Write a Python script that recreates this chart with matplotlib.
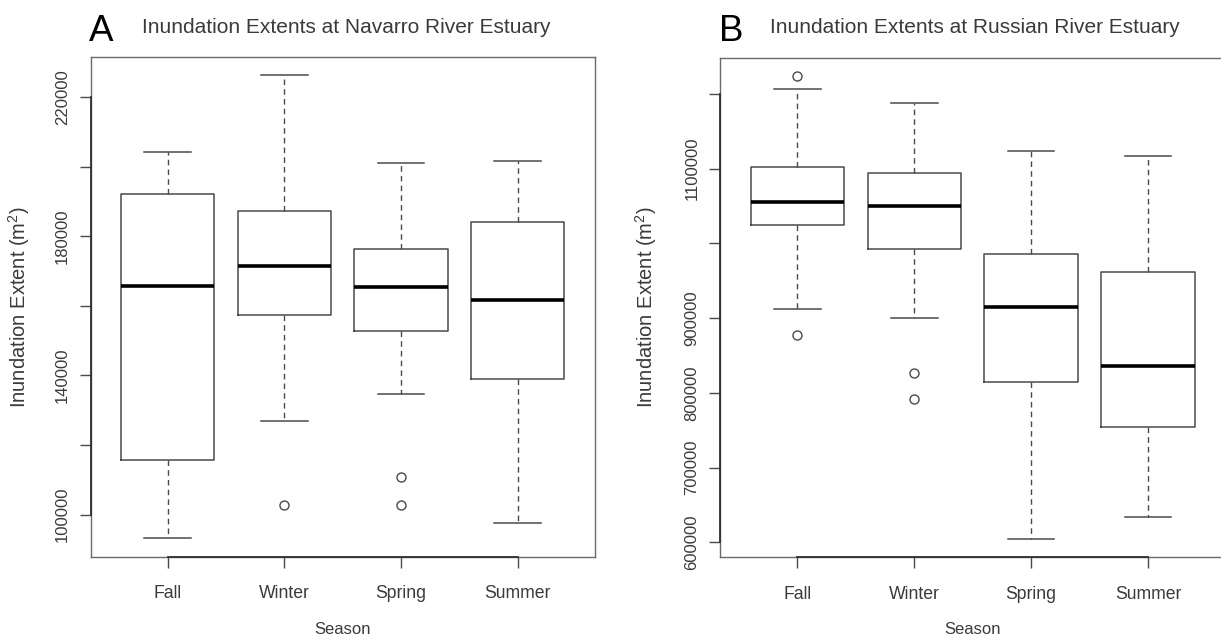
import matplotlib
matplotlib.use("Agg")
import matplotlib.pyplot as plt
from matplotlib.transforms import blended_transform_factory

# ---------------- data ----------------
seasons = ["Fall", "Winter", "Spring", "Summer"]

nav_whislo = [93300, 126800, 134600, 97700]
nav_q1 = [115800, 157400, 152800, 138900]
nav_med = [165700, 171500, 165300, 161800]
nav_q3 = [192000, 187200, 176400, 184000]
nav_whishi = [204200, 226300, 201000, 201500]
nav_fliers = [[], [102800], [110800, 102800], []]

rus_whislo = [911800, 900100, 604700, 633700]
rus_q1 = [1025000, 992900, 814500, 753800]
rus_med = [1055800, 1049700, 914500, 836300]
rus_q3 = [1102300, 1093800, 986200, 962100]
rus_whishi = [1206700, 1188000, 1124100, 1117000]
rus_fliers = [[1223700, 877800], [826900, 792100], [], []]

nav_yticks = [100000, 120000, 140000, 160000, 180000, 200000, 220000]
nav_yticklabels = ["100000", "", "140000", "", "180000", "", "220000"]
rus_yticks = [600000, 700000, 800000, 900000, 1000000, 1100000, 1200000]
rus_yticklabels = ["600000", "700000", "800000", "900000", "", "1100000", ""]

titles = ["Inundation Extents at Navarro River Estuary",
          "Inundation Extents at Russian River Estuary"]
panel_letters = ["A", "B"]
xlabel = "Season"
ylabel = "Inundation Extent (m$^2$)"

# ---------------- style ----------------
plt.rcParams["font.family"] = ["Liberation Sans", "DejaVu Sans"]
plt.rcParams["mathtext.fontset"] = "custom"
plt.rcParams["mathtext.rm"] = "Liberation Sans"

W, H = 1221, 638
fig = plt.figure(figsize=(W / 100, H / 100), dpi=100)
fig.patch.set_facecolor("white")

frame_col = "#6a6a6a"
line_col = "#4a4a4a"
text_col = "#3a3a3a"


def px_rect(x0, y0, x1, y1):
    return [x0 / W, 1 - y1 / H, (x1 - x0) / W, (y1 - y0) / H]


A_box = (90.7, 57.0, 594.8, 557.0)
B_box = (720.3, 57.7, 1225.0, 557.3)
axA = fig.add_axes(px_rect(*A_box))
axB = fig.add_axes(px_rect(*B_box))

panels = [
    (axA, nav_whislo, nav_q1, nav_med, nav_q3, nav_whishi, nav_fliers,
     (87800, 231500), nav_yticks, nav_yticklabels),
    (axB, rus_whislo, rus_q1, rus_med, rus_q3, rus_whishi, rus_fliers,
     (579800, 1248600), rus_yticks, rus_yticklabels),
]

for ax, wlo, q1, med, q3, whi, fl, ylim, yt, ytl in panels:
    stats = []
    for i in range(len(seasons)):
        stats.append(dict(label=seasons[i], whislo=wlo[i], q1=q1[i], med=med[i],
                          q3=q3[i], whishi=whi[i], fliers=fl[i]))
    ax.bxp(stats, positions=[1, 2, 3, 4], widths=0.8, capwidths=0.4,
           showfliers=True, patch_artist=False,
           boxprops=dict(color=line_col, linewidth=1.1),
           whiskerprops=dict(color=line_col, linewidth=1.0, linestyle=(0, (4, 3))),
           capprops=dict(color=line_col, linewidth=1.1),
           medianprops=dict(color="black", linewidth=2.6, solid_capstyle="butt"),
           flierprops=dict(marker="o", markersize=6.5, markerfacecolor="none",
                           markeredgecolor=line_col, markeredgewidth=1.0))
    ax.set_xlim(0.34, 4.66)
    ax.set_ylim(*ylim)
    ax.set_xticks([1, 2, 3, 4])
    ax.set_xticklabels(seasons, fontsize=12.7, color=text_col)
    ax.set_yticks(yt)
    ax.set_yticklabels(ytl, fontsize=12, color=text_col, rotation=90, va="center")
    ax.tick_params(axis="both", direction="out", length=8, width=1.0, color=line_col)
    ax.tick_params(axis="x", pad=12.5)
    ax.tick_params(axis="y", pad=7)
    for s in ax.spines.values():
        s.set_color(frame_col)
        s.set_linewidth(1.0)
    # R-style darker axis lines between the first and last tick
    tb = blended_transform_factory(ax.transData, ax.transAxes)
    ax.plot([1, 4], [0, 0], transform=tb, color="#303030", lw=1.3, clip_on=False, zorder=5)
    tl = blended_transform_factory(ax.transAxes, ax.transData)
    ax.plot([0, 0], [yt[0], yt[-1]], transform=tl, color="#303030", lw=1.3, clip_on=False, zorder=5)

# axis labels
wA = A_box[2] - A_box[0]
wB = B_box[2] - B_box[0]
axA.set_ylabel(ylabel, fontsize=14.5, color=text_col)
axA.yaxis.set_label_coords((32 - A_box[0]) / wA, 0.5)
axB.set_ylabel(ylabel, fontsize=14.5, color=text_col)
axB.yaxis.set_label_coords((659 - B_box[0]) / wB, 0.5)

axA.set_xlabel(xlabel, fontsize=12, color=text_col)
axA.xaxis.set_label_coords(0.5, -(621.5 - 557) / 500.0)
axB.set_xlabel(xlabel, fontsize=12, color=text_col)
axB.xaxis.set_label_coords(0.5, -(621.5 - 557.3) / 499.6)

# titles and panel letters
fig.text(141.7 / W, 1 - 32.7 / H, titles[0], fontsize=15,
         color=text_col, ha="left", va="baseline")
fig.text(769.8 / W, 1 - 32.7 / H, titles[1], fontsize=15,
         color=text_col, ha="left", va="baseline")
fig.text(89.3 / W, 1 - 40.7 / H, panel_letters[0], fontsize=26.5, color="black",
         ha="left", va="baseline")
fig.text(719.5 / W, 1 - 40.7 / H, panel_letters[1], fontsize=26.5, color="black",
         ha="left", va="baseline")

fig.savefig("out.png", dpi=100, facecolor="white")
